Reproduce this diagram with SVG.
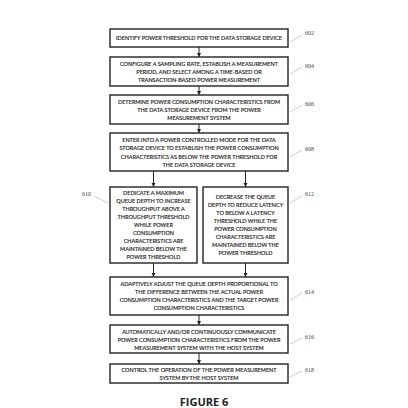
<svg xmlns="http://www.w3.org/2000/svg" width="408" height="408" viewBox="0 0 408 408">
<defs>
<style>
.box{fill:#fff;stroke:#222;stroke-width:1.4}
.t{font-family:Lato,"Liberation Sans",sans-serif;font-size:5.5px;fill:#1a1a1a;stroke:#1a1a1a;stroke-width:0.15;text-anchor:middle}
.lbl{font-family:"Liberation Serif",serif;font-size:6px;fill:#444}
.lead{stroke:#aaa;stroke-width:0.6;fill:none}
.con{stroke:#222;stroke-width:1;fill:none}
.fig{font-family:"Open Sans","Liberation Sans",sans-serif;font-size:11px;font-weight:bold;fill:#222;text-anchor:middle}
</style>
<marker id="ah" viewBox="0 0 10 10" refX="10" refY="5" markerWidth="4" markerHeight="5" markerUnits="userSpaceOnUse" orient="auto">
<path d="M0,0 L10,5 L0,10 z" fill="#222"/>
</marker>
</defs>
<rect width="408" height="408" fill="#fff"/>
<g id="connectors">
<line class="con" x1="199" y1="47" x2="199" y2="57" marker-end="url(#ah)"/>
<line class="con" x1="199" y1="86" x2="199" y2="95" marker-end="url(#ah)"/>
<line class="con" x1="199" y1="124" x2="199" y2="133" marker-end="url(#ah)"/>
<line class="con" x1="153.5" y1="171" x2="153.5" y2="187" marker-end="url(#ah)"/>
<line class="con" x1="245.5" y1="171" x2="245.5" y2="187" marker-end="url(#ah)"/>
<line class="con" x1="153.5" y1="263" x2="153.5" y2="277" marker-end="url(#ah)"/>
<line class="con" x1="245.5" y1="263" x2="245.5" y2="277" marker-end="url(#ah)"/>
<line class="con" x1="199" y1="315" x2="199" y2="325" marker-end="url(#ah)"/>
<line class="con" x1="199" y1="353" x2="199" y2="364" marker-end="url(#ah)"/>
</g>
<g id="n602">
<rect class="box" x="110" y="29" width="178" height="18"/>
<text class="t" x="199" y="40">IDENTIFY POWER THRESHOLD FOR THE DATA STORAGE DEVICE</text>
<line class="lead" x1="290" y1="42" x2="302" y2="35"/>
<text class="lbl" x="305" y="35">602</text>
</g>
<g id="n604">
<rect class="box" x="110" y="57" width="178" height="29"/>
<text class="t" x="199" y="66">CONFIGURE A SAMPLING RATE, ESTABLISH A MEASUREMENT</text>
<text class="t" x="199" y="74">PERIOD, AND SELECT AMONG A TIME-BASED OR</text>
<text class="t" x="199" y="82">TRANSACTION-BASED POWER MEASUREMENT</text>
<line class="lead" x1="290" y1="74" x2="302" y2="67"/>
<text class="lbl" x="305" y="68">604</text>
</g>
<g id="n606">
<rect class="box" x="110" y="95" width="178" height="29"/>
<text class="t" x="199" y="104">DETERMINE POWER CONSUMPTION CHARACTERISTICS FROM</text>
<text class="t" x="199" y="112">THE DATA STORAGE DEVICE  FROM THE POWER</text>
<text class="t" x="199" y="120">MEASUREMENT SYSTEM</text>
<line class="lead" x1="290" y1="112" x2="302" y2="105"/>
<text class="lbl" x="305" y="106">606</text>
</g>
<g id="n608">
<rect class="box" x="110" y="133" width="178" height="38"/>
<text class="t" x="199" y="142">ENTER INTO A POWER CONTROLLED MODE FOR THE DATA</text>
<text class="t" x="199" y="150">STORAGE DEVICE TO ESTABLISH THE POWER CONSUMPTION</text>
<text class="t" x="199" y="159">CHARACTERISTICS AS BELOW THE POWER THRESHOLD FOR</text>
<text class="t" x="199" y="167">THE DATA STORAGE DEVICE</text>
<line class="lead" x1="290" y1="157" x2="302" y2="150"/>
<text class="lbl" x="305" y="151">608</text>
</g>
<g id="n610">
<rect class="box" x="110" y="187" width="87" height="76"/>
<text class="t" x="153.5" y="195">DEDICATE A MAXIMUM</text>
<text class="t" x="153.5" y="203">QUEUE DEPTH TO INCREASE</text>
<text class="t" x="153.5" y="211">THROUGHPUT ABOVE A</text>
<text class="t" x="153.5" y="219">THROUGHPUT THRESHOLD</text>
<text class="t" x="153.5" y="227">WHILE POWER</text>
<text class="t" x="153.5" y="235">CONSUMPTION</text>
<text class="t" x="153.5" y="243">CHARACTERISTICS ARE</text>
<text class="t" x="153.5" y="251">MAINTAINED BELOW THE</text>
<text class="t" x="153.5" y="259">POWER THRESHOLD</text>
<line class="lead" x1="94" y1="196" x2="108" y2="203"/>
<text class="lbl" x="82" y="196">610</text>
</g>
<g id="n612">
<rect class="box" x="203" y="187" width="85" height="76"/>
<text class="t" x="245.5" y="199">DECREASE THE QUEUE</text>
<text class="t" x="245.5" y="207">DEPTH TO REDUCE LATENCY</text>
<text class="t" x="245.5" y="215">TO BELOW A LATENCY</text>
<text class="t" x="245.5" y="223">THRESHOLD WHILE THE</text>
<text class="t" x="245.5" y="231">POWER CONSUMPTION</text>
<text class="t" x="245.5" y="239">CHARACTERISTICS ARE</text>
<text class="t" x="245.5" y="247">MAINTAINED BELOW THE</text>
<text class="t" x="245.5" y="255">POWER THRESHOLD</text>
<line class="lead" x1="290" y1="203" x2="302" y2="196"/>
<text class="lbl" x="305" y="196">612</text>
</g>
<g id="n614">
<rect class="box" x="110" y="277" width="178" height="38"/>
<text class="t" x="199" y="286">ADAPTIVELY ADJUST THE QUEUE DEPTH PROPORTIONAL TO</text>
<text class="t" x="199" y="294">THE DIFFERENCE BETWEEN THE ACTUAL POWER</text>
<text class="t" x="199" y="302">CONSUMPTION CHARACTERISTICS AND THE TARGET POWER</text>
<text class="t" x="199" y="310">CONSUMPTION CHARACTERISTICS</text>
<line class="lead" x1="290" y1="300" x2="302" y2="293"/>
<text class="lbl" x="305" y="294">614</text>
</g>
<g id="n616">
<rect class="box" x="110" y="325" width="178" height="28"/>
<text class="t" x="199" y="334">AUTOMATICALLY AND/OR CONTINUOUSLY COMMUNICATE</text>
<text class="t" x="199" y="342">POWER CONSUMPTION CHARACTERISTICS FROM THE POWER</text>
<text class="t" x="199" y="350">MEASUREMENT SYSTEM WITH THE HOST SYSTEM</text>
<line class="lead" x1="290" y1="344" x2="302" y2="338"/>
<text class="lbl" x="305" y="339">616</text>
</g>
<g id="n618">
<rect class="box" x="110" y="364" width="178" height="19"/>
<text class="t" x="199" y="372">CONTROL THE OPERATION OF THE POWER MEASUREMENT</text>
<text class="t" x="199" y="380">SYSTEM BY THE HOST SYSTEM</text>
<line class="lead" x1="290" y1="377" x2="302" y2="371"/>
<text class="lbl" x="305" y="372">618</text>
</g>
<text class="fig" x="204" y="406">FIGURE 6</text>
</svg>
